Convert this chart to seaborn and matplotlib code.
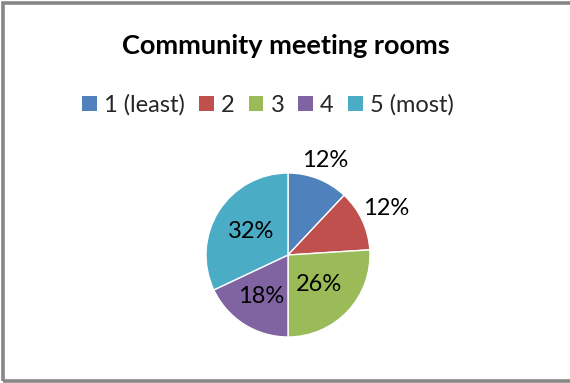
import matplotlib
matplotlib.use("Agg")
import matplotlib.pyplot as plt
import seaborn as sns
import numpy as np
from matplotlib.patches import Rectangle, Patch

# Survey shares for community meeting rooms
categories = ["1 (least)", "2", "3", "4", "5 (most)"]
shares = [12, 12, 26, 18, 32]
colors = ["#4F81BD", "#C0504D", "#9BBB59", "#8064A2", "#4BACC6"]
title = "Community meeting rooms"

# radial placement of each percent label (fraction of radius)
label_dist = [1.24, 1.32, 0.52, 0.60, 0.54]

sns.set_theme(style="white")
plt.rcParams["font.family"] = ["Lato", "DejaVu Sans"]

W, H = 570, 383
fig = plt.figure(figsize=(W / 100, H / 100), dpi=100)
fig.patch.set_facecolor("white")

# chart frame (right side runs past the edge)
fig.add_artist(Rectangle((3 / W, 2 / H), 1.05, (H - 4.5) / H, transform=fig.transFigure,
                         fill=False, edgecolor="#878787", linewidth=2.6))

cx, cy, r = 288, 255, 82
ax = fig.add_axes([(cx - r) / W, (H - cy - r) / H, 2 * r / W, 2 * r / H])
wedges, _ = ax.pie(shares, colors=colors, startangle=90, counterclock=False,
                   radius=1.0, wedgeprops=dict(edgecolor="white", linewidth=1.0))
ax.set_xlim(-1, 1)
ax.set_ylim(-1, 1)
ax.set_aspect("equal")
ax.axis("off")

for w, v, d in zip(wedges, shares, label_dist):
    ang = np.deg2rad((w.theta1 + w.theta2) / 2)
    ax.text(d * np.cos(ang), d * np.sin(ang), f"{v}%", ha="center", va="center",
            fontsize=17, color="black")

fig.text(286 / W, 1 - 46 / H, title, ha="center", va="center",
         fontsize=19.5, fontweight="bold", color="black")

handles = [Patch(facecolor=c, edgecolor="none") for c in colors]
fig.legend(handles, categories, loc="center", bbox_to_anchor=(268 / W, 1 - 105 / H),
           ncol=5, frameon=False, fontsize=17, handlelength=0.62, handleheight=0.62,
           handletextpad=0.3, columnspacing=0.6, borderpad=0)

fig.savefig("out.png", dpi=100)
